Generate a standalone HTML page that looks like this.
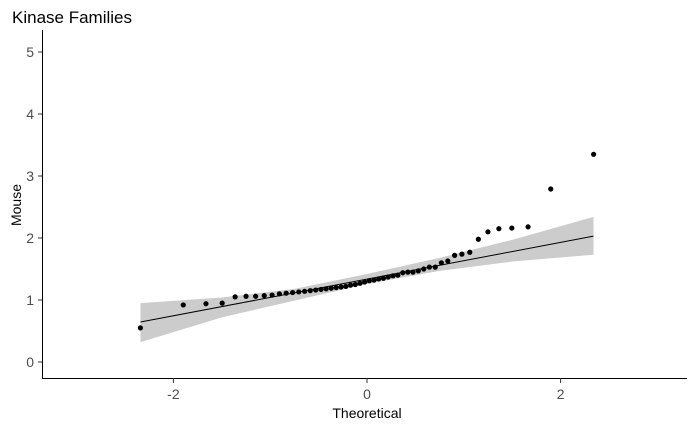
<!DOCTYPE html>
<html><head><meta charset="utf-8"><style>
body{margin:0;background:#fff}
svg{font-family:"Liberation Sans",sans-serif;display:block}
</style></head><body>
<svg width="696" height="430">
<text x="12" y="23" font-size="17" fill="#000">Kinase Families</text>
<g id="band"></g>
<g id="fit"></g>
<g id="pts"></g>
<g id="axes"></g>
<text x="367" y="418" font-size="14" text-anchor="middle">Theoretical</text>
<text transform="translate(21,205) rotate(-90)" font-size="14" text-anchor="middle">Mouse</text>
</svg>
<script>
const sampleValues=[0.55,0.92,0.94,0.95,1.05,1.06,1.06,1.07,1.08,1.10,1.11,1.12,1.13,1.14,1.15,1.16,1.17,1.18,1.19,1.20,1.21,1.22,1.24,1.25,1.27,1.29,1.31,1.32,1.34,1.35,1.37,1.39,1.40,1.44,1.45,1.45,1.47,1.50,1.53,1.53,1.60,1.63,1.72,1.74,1.77,1.98,2.10,2.15,2.16,2.18,2.79,3.35];
const fitLine=[[-2.34,0.645],[2.34,2.03]];
const bandX=[-2.34,-1.5,-0.75,0,0.75,1.5,2.34];
const bandLow=[0.32,0.72,0.99,1.26,1.47,1.62,1.73];
const bandHigh=[0.95,1.04,1.18,1.42,1.68,1.97,2.34];
const xTicks=[-2,0,2];
const yTicks=[0,1,2,3,4,5];
const NS="http://www.w3.org/2000/svg";
const sx=v=>367+96.8*v, sy=v=>362-62*v;
function qnorm(p){const a=[-39.6968302866538,220.946098424521,-275.928510446969,138.357751867269,-30.6647980661472,2.50662827745924],b=[-54.4760987982241,161.585836858041,-155.698979859887,66.8013118877197,-13.2806815528857],c=[-0.00778489400243029,-0.322396458041136,-2.40075827716184,-2.54973253934373,4.37466414146497,2.93816398269878],d=[0.00778469570904146,0.32246712907004,2.445134137143,3.75440866190742];let q,r;
if(p<0.02425){q=Math.sqrt(-2*Math.log(p));return(((((c[0]*q+c[1])*q+c[2])*q+c[3])*q+c[4])*q+c[5])/((((d[0]*q+d[1])*q+d[2])*q+d[3])*q+1);}
if(p>1-0.02425){q=Math.sqrt(-2*Math.log(1-p));return-(((((c[0]*q+c[1])*q+c[2])*q+c[3])*q+c[4])*q+c[5])/((((d[0]*q+d[1])*q+d[2])*q+d[3])*q+1);}
q=p-0.5;r=q*q;return(((((a[0]*r+a[1])*r+a[2])*r+a[3])*r+a[4])*r+a[5])*q/(((((b[0]*r+b[1])*r+b[2])*r+b[3])*r+b[4])*r+1);}
function mk(t,at,par){const e=document.createElementNS(NS,t);for(const k in at)e.setAttribute(k,at[k]);document.getElementById(par).appendChild(e);return e;}
let d="";bandX.forEach((x,i)=>d+=(i?"L":"M")+sx(x)+","+sy(bandHigh[i]));
for(let i=bandX.length-1;i>=0;i--)d+="L"+sx(bandX[i])+","+sy(bandLow[i]);
const bp=mk("path",{d:d+"Z",fill:"#cccccc"},"band");


const fl=mk("line",{x1:sx(fitLine[0][0]),y1:sy(fitLine[0][1]),x2:sx(fitLine[1][0]),y2:sy(fitLine[1][1]),stroke:"#000","stroke-width":1},"fit");


const n=sampleValues.length;
sampleValues.slice().sort((a,b)=>a-b).forEach((v,i)=>{
const c=mk("circle",{cx:sx(qnorm((i+0.5)/n)),cy:sy(v),r:2.6,fill:"#000"},"pts");


});
mk("line",{x1:42.5,y1:30,x2:42.5,y2:378.5,stroke:"#000","stroke-width":1},"axes");
mk("line",{x1:42,y1:378.5,x2:687,y2:378.5,stroke:"#000","stroke-width":1},"axes");
xTicks.forEach(t=>{
mk("line",{x1:sx(t),y1:378,x2:sx(t),y2:383,stroke:"#333"},"axes");
const e=mk("text",{x:sx(t),y:399,"font-size":14,"text-anchor":"middle",fill:"#4d4d4d"},"axes");
e.textContent=t;


});
yTicks.forEach(t=>{
mk("line",{x1:38,y1:sy(t),x2:42,y2:sy(t),stroke:"#333"},"axes");
const e=mk("text",{x:34,y:sy(t)+5,"font-size":14,"text-anchor":"end",fill:"#4d4d4d"},"axes");
e.textContent=t;


});
</script>
</body></html>
